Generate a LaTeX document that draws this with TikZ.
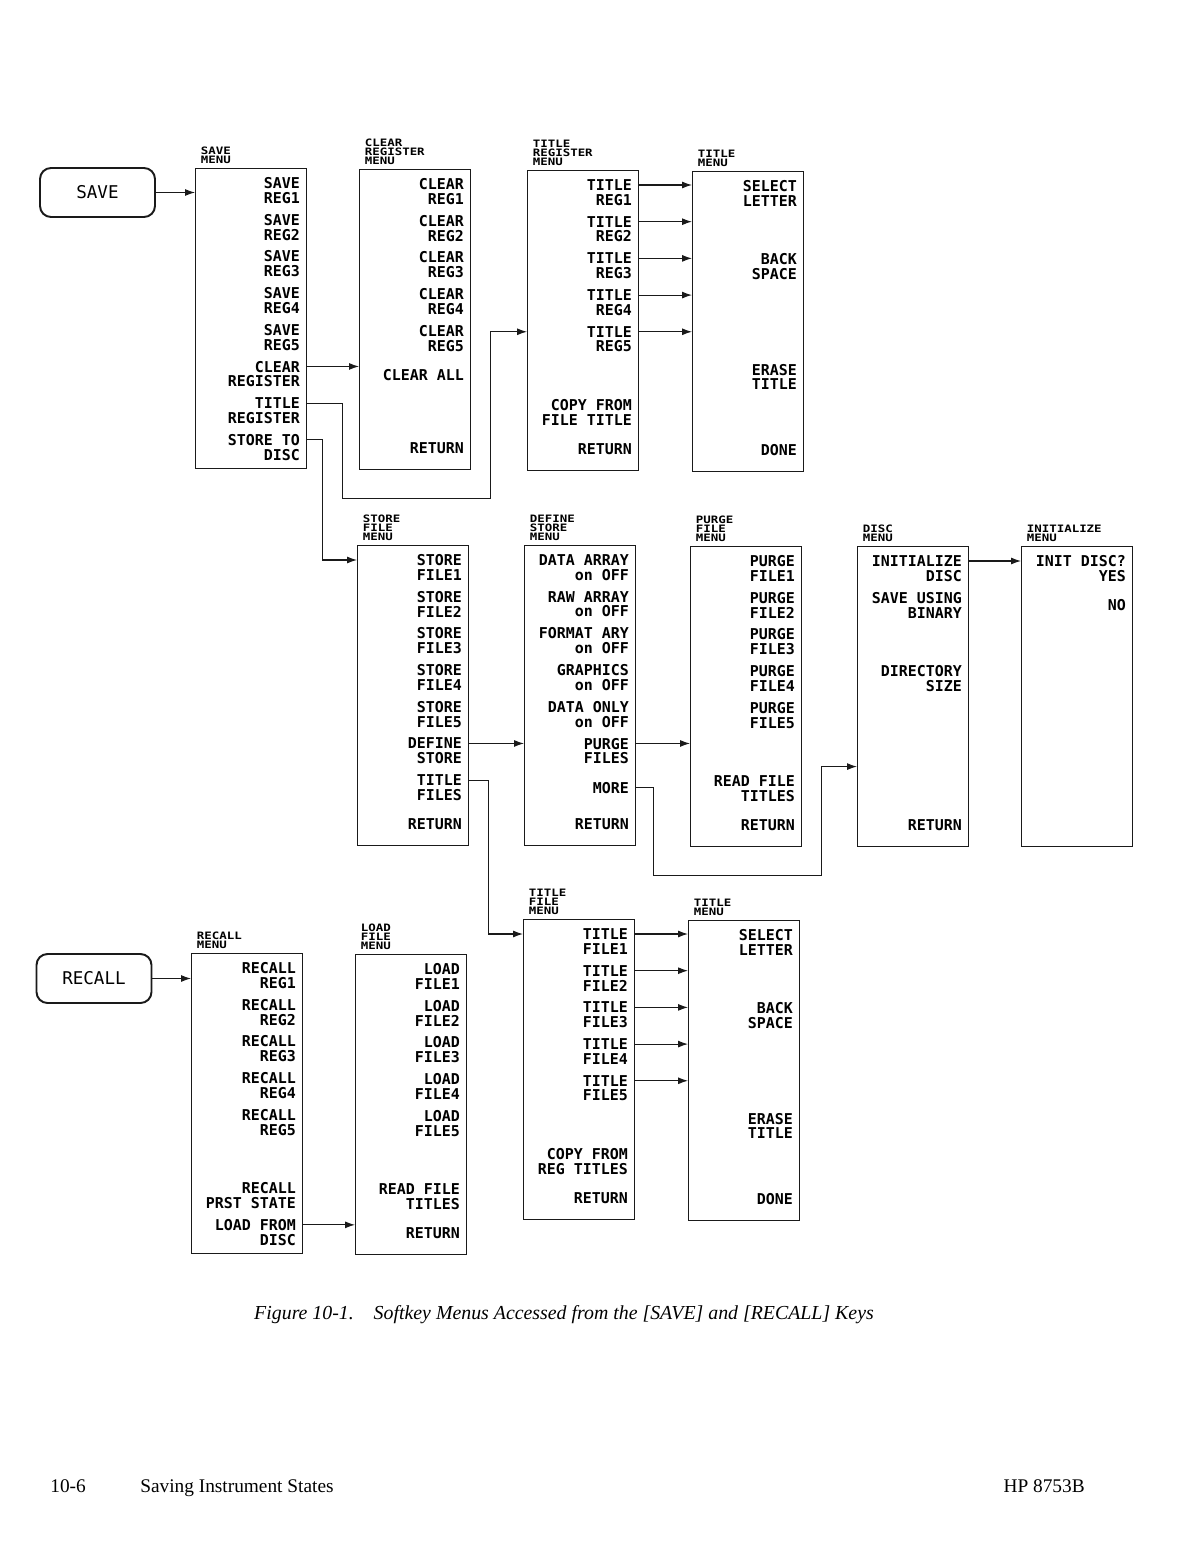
\documentclass[tikz,border=0pt]{standalone}
\usepackage{fontspec}
\setmainfont{Liberation Serif}
\setmonofont{DejaVu Sans Mono}
\newfontfamily\menufont[FakeStretch=1.22]{DejaVu Sans Mono}
\usepackage{tikz}
\usetikzlibrary{arrows.meta,positioning}
\definecolor{ink}{HTML}{1A1A1A}
\definecolor{paper}{HTML}{FFFFFF}
\newcommand{\softkeys}[2]{%
  \foreach \k/\txt in {#2}
    \node[softkey] (#1-\k) at ([xshift=-0.14cm, yshift={-0.45cm-(\k-1)*0.734cm}]#1.north east) {\txt};}
\tikzset{
  menubox/.style={
    rectangle, draw=ink, line width=0.7pt, anchor=north west,
    minimum width=2.22cm, minimum height=6cm, inner sep=0pt
  },
  menutitle/.style={
    anchor=south west, inner sep=0pt, align=left, xshift=0.11cm, yshift=0.09cm,
    font=\menufont\bfseries\fontsize{5.8}{5.1}\selectfont
  },
  softkey/.style={
    anchor=east, inner sep=0pt, align=right,
    font=\ttfamily\bfseries\fontsize{8.5}{8.4}\selectfont
  },
  hardkey/.style={
    rectangle, rounded corners=0.22cm, draw=ink, line width=1.1pt,
    minimum width=2.3cm, minimum height=0.98cm,
    font=\ttfamily\fontsize{10}{12}\selectfont
  },
  menuarrow/.style={-{Latex[length=2mm,width=1.4mm]}, line width=0.6pt, color=ink},
  pagetext/.style={inner sep=0pt, font=\fontsize{11}{13}\selectfont},
}
\begin{document}
\begin{tikzpicture}[x=0.02cm, y=-0.02cm]
  \path[fill=paper] (0,0) rectangle (1176,1544);

  \node[hardkey] (savekey) at (97.5,192.5) {SAVE};
  \node[hardkey] (recallkey) at (94,978.5) {RECALL};

  \node[menubox] (save) at (195,168) {};
  \node[menutitle] (save-t) at (save.north west) {SAVE\\MENU};
  \softkeys{save}{1/{SAVE\\REG1},2/{SAVE\\REG2},3/{SAVE\\REG3},4/{SAVE\\REG4},5/{SAVE\\REG5},
    6/{CLEAR\\REGISTER},7/{TITLE\\REGISTER},8/{STORE TO\\DISC}}

  \node[menubox] (clr) at (359,169) {};
  \node[menutitle] (clr-t) at (clr.north west) {CLEAR\\REGISTER\\MENU};
  \softkeys{clr}{1/{CLEAR\\REG1},2/{CLEAR\\REG2},3/{CLEAR\\REG3},4/{CLEAR\\REG4},5/{CLEAR\\REG5},
    6/{CLEAR ALL},8/{RETURN}}

  \node[menubox] (treg) at (527,170) {};
  \node[menutitle] (treg-t) at (treg.north west) {TITLE\\REGISTER\\MENU};
  \softkeys{treg}{1/{TITLE\\REG1},2/{TITLE\\REG2},3/{TITLE\\REG3},4/{TITLE\\REG4},5/{TITLE\\REG5},
    7/{COPY FROM\\FILE TITLE},8/{RETURN}}

  \node[menubox] (tmA) at (692,171) {};
  \node[menutitle] (tmA-t) at (tmA.north west) {TITLE\\MENU};
  \softkeys{tmA}{1/{SELECT\\LETTER},3/{BACK\\SPACE},6/{ERASE\\TITLE},8/{DONE}}

  \node[menubox] (store) at (357,545) {};
  \node[menutitle] (store-t) at (store.north west) {STORE\\FILE\\MENU};
  \softkeys{store}{1/{STORE\\FILE1},2/{STORE\\FILE2},3/{STORE\\FILE3},4/{STORE\\FILE4},5/{STORE\\FILE5},
    6/{DEFINE\\STORE},7/{TITLE\\FILES},8/{RETURN}}

  \node[menubox] (def) at (524,545) {};
  \node[menutitle] (def-t) at (def.north west) {DEFINE\\STORE\\MENU};
  \softkeys{def}{1/{DATA ARRAY\\on OFF},2/{RAW ARRAY\\on OFF},3/{FORMAT ARY\\on OFF},4/{GRAPHICS\\on OFF},
    5/{DATA ONLY\\on OFF},6/{PURGE\\FILES},7/{MORE},8/{RETURN}}

  \node[menubox] (purge) at (690,546) {};
  \node[menutitle] (purge-t) at (purge.north west) {PURGE\\FILE\\MENU};
  \softkeys{purge}{1/{PURGE\\FILE1},2/{PURGE\\FILE2},3/{PURGE\\FILE3},4/{PURGE\\FILE4},5/{PURGE\\FILE5},
    7/{READ FILE\\TITLES},8/{RETURN}}

  \node[menubox] (disc) at (857,546) {};
  \node[menutitle] (disc-t) at (disc.north west) {DISC\\MENU};
  \softkeys{disc}{1/{INITIALIZE\\DISC},2/{SAVE USING\\BINARY},4/{DIRECTORY\\SIZE},8/{RETURN}}

  \node[menubox] (init) at (1021,546) {};
  \node[menutitle] (init-t) at (init.north west) {INITIALIZE\\MENU};
  \softkeys{init}{1/{INIT DISC?\\YES},2/{NO}}

  \node[menubox] (tfile) at (523,919) {};
  \node[menutitle] (tfile-t) at (tfile.north west) {TITLE\\FILE\\MENU};
  \softkeys{tfile}{1/{TITLE\\FILE1},2/{TITLE\\FILE2},3/{TITLE\\FILE3},4/{TITLE\\FILE4},5/{TITLE\\FILE5},
    7/{COPY FROM\\REG TITLES},8/{RETURN}}

  \node[menubox] (tmB) at (688,920) {};
  \node[menutitle] (tmB-t) at (tmB.north west) {TITLE\\MENU};
  \softkeys{tmB}{1/{SELECT\\LETTER},3/{BACK\\SPACE},6/{ERASE\\TITLE},8/{DONE}}

  \node[menubox] (recall) at (191,953) {};
  \node[menutitle] (recall-t) at (recall.north west) {RECALL\\MENU};
  \softkeys{recall}{1/{RECALL\\REG1},2/{RECALL\\REG2},3/{RECALL\\REG3},4/{RECALL\\REG4},5/{RECALL\\REG5},
    7/{RECALL\\PRST STATE},8/{LOAD FROM\\DISC}}

  \node[menubox] (load) at (355,954) {};
  \node[menutitle] (load-t) at (load.north west) {LOAD\\FILE\\MENU};
  \softkeys{load}{1/{LOAD\\FILE1},2/{LOAD\\FILE2},3/{LOAD\\FILE3},4/{LOAD\\FILE4},5/{LOAD\\FILE5},
    7/{READ FILE\\TITLES},8/{RETURN}}

  \draw[menuarrow] (savekey) -- (savekey -| save.west);
  \draw[menuarrow] (recallkey) -- (recallkey -| recall.west);

  \foreach \a/\b/\m in {save-6/save/clr, treg-1/treg/tmA, treg-2/treg/tmA, treg-3/treg/tmA,
      treg-4/treg/tmA, treg-5/treg/tmA, store-6/store/def, def-6/def/purge, disc-1/disc/init,
      tfile-1/tfile/tmB, tfile-2/tfile/tmB, tfile-3/tfile/tmB, tfile-4/tfile/tmB, tfile-5/tfile/tmB,
      recall-8/recall/load}
    \draw[menuarrow] ([yshift=1.5mm]\a.east -| \b.east) -- ([yshift=1.5mm]\a.east -| \m.west);

  \draw[menuarrow] ([yshift=1.5mm]save-7.east -| save.east) -- ++(35,0) -- ++(0,95) -- ++(148,0)
    |- ([yshift=1.5mm]treg-5.east -| treg.west);
  \draw[menuarrow] ([yshift=1.5mm]save-8.east -| save.east) -- ++(15,0)
    |- ([yshift=1.5mm]store-1.east -| store.west);
  \draw[menuarrow] ([yshift=1.5mm]store-7.east -| store.east) -- ++(19,0)
    |- ([yshift=1.5mm]tfile-1.east -| tfile.west);
  \draw[menuarrow] (def-7.east -| def.east) -- ++(17,0) -- ++(0,88) -- ++(168,0)
    |- ([yshift=-1.4cm]disc.west);

  \node[font=\itshape\fontsize{11.3}{13}\selectfont] (caption) at (564,1315)
    {Figure 10-1.\quad Softkey Menus Accessed from the [SAVE] and [RECALL] Keys};
  \node[pagetext, anchor=base west] (pageno) at (50,1492) {10-6};
  \node[pagetext, anchor=base west] (chapter) at (140,1492) {Saving Instrument States};
  \node[pagetext, anchor=base east] (model) at (1085,1492) {HP 8753B};
\end{tikzpicture}
\end{document}
